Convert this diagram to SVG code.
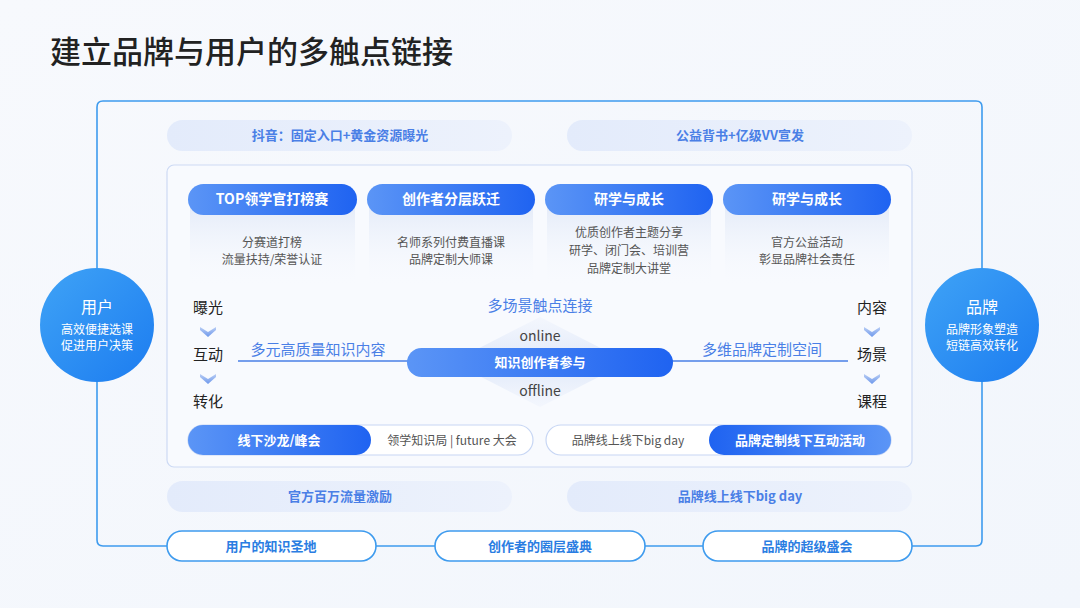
<svg xmlns="http://www.w3.org/2000/svg" width="1080" height="608" viewBox="0 0 1080 608">
<defs>
<linearGradient id="bg" x1="0" y1="0" x2="1" y2="1"><stop offset="0" stop-color="#f7f9fd"/><stop offset="1" stop-color="#f2f6fc"/></linearGradient>
<linearGradient id="blueR" x1="0" y1="0" x2="1" y2="0"><stop offset="0" stop-color="#5b95f6"/><stop offset="1" stop-color="#1f63f1"/></linearGradient>
<linearGradient id="blueL" x1="0" y1="0" x2="1" y2="0"><stop offset="0" stop-color="#1f63f1"/><stop offset="1" stop-color="#5b95f6"/></linearGradient>
<linearGradient id="pale" x1="0" y1="0" x2="1" y2="0"><stop offset="0" stop-color="#e3ebfb"/><stop offset="1" stop-color="#edf2fc"/></linearGradient>
<linearGradient id="fade" x1="0" y1="0" x2="0" y2="1"><stop offset="0" stop-color="#e4ebf8"/><stop offset="1" stop-color="#f6f9fe" stop-opacity="0"/></linearGradient>
<linearGradient id="circ" x1="0" y1="0" x2="1" y2="1"><stop offset="0" stop-color="#3fa3f6"/><stop offset="1" stop-color="#1c7cf0"/></linearGradient>
<linearGradient id="dia" x1="0" y1="0" x2="0" y2="1"><stop offset="0" stop-color="#e8eefb" stop-opacity="0.3"/><stop offset="0.5" stop-color="#dfe8f9"/><stop offset="1" stop-color="#e8eefb" stop-opacity="0.3"/></linearGradient>
<linearGradient id="chev" x1="0" y1="0" x2="0" y2="1"><stop offset="0" stop-color="#b9cdf4"/><stop offset="1" stop-color="#6d98ec"/></linearGradient>
<style>
text{font-family:"Noto Sans CJK SC","Noto Sans",sans-serif;}
.title{font-size:31px;fill:#222;font-weight:500;}
.pale{fill:url(#pale);}
.paleT{font-size:13px;fill:#4a7fe6;font-weight:700;text-anchor:middle;}
.head{fill:url(#blueR);}
.headT{font-size:14px;fill:#fff;font-weight:700;text-anchor:middle;}
.desc{font-size:12px;fill:#555;text-anchor:middle;}
.side{font-size:15px;fill:#222;text-anchor:middle;}
.blueT{font-size:15px;fill:#4a7fe6;text-anchor:middle;}
.line{stroke:#3e9bee;stroke-width:1.6;fill:none;}
.bot{fill:#fff;stroke:#3e9bee;stroke-width:1.6;}
.botT{font-size:13px;fill:#2a7de2;font-weight:700;text-anchor:middle;}
.cT{font-size:16px;fill:#fff;text-anchor:middle;}
.cS{font-size:12px;fill:#fff;text-anchor:middle;}
.chev{fill:url(#chev);}
</style>
</defs>
<rect width="1080" height="608" fill="url(#bg)"/>
<text class="title" x="50" y="63">建立品牌与用户的多触点链接</text>

<g id="top-pills">
<rect class="pale" x="167" y="120" width="345" height="31" rx="15.5"/>
<text class="paleT" x="340" y="140">抖音：固定入口+黄金资源曝光</text>
<rect class="pale" x="567" y="120" width="345" height="31" rx="15.5"/>
<text class="paleT" x="740" y="140">公益背书+亿级VV宣发</text>
</g>

<g id="inner-box">
<rect x="167" y="165" width="745" height="302" rx="7" fill="#f8fafe" stroke="#cddaf4" stroke-width="1.2"/>
</g>

<g id="connectors">
<path class="line" d="M167,546 H103 Q97,546 97,540 V107 Q97,101 103,101 H976 Q982,101 982,107 V540 Q982,546 976,546 H912"/>
<line class="line" x1="376" y1="546" x2="435" y2="546"/>
<line class="line" x1="645" y1="546" x2="703" y2="546"/>
<line x1="238" y1="361" x2="410" y2="361" stroke="#4a7fe6" stroke-width="1.5"/>
<line x1="670" y1="361" x2="848" y2="361" stroke="#4a7fe6" stroke-width="1.5"/>
</g>

<g id="card1">
<rect x="190" y="205" width="165" height="80" fill="url(#fade)"/>
<rect class="head" x="188" y="184" width="169" height="31" rx="15.5"/>
<text class="headT" x="272" y="204">TOP领学官打榜赛</text>
<text class="desc" x="272" y="247">分赛道打榜</text>
<text class="desc" x="272" y="264">流量扶持/荣誉认证</text>
</g>
<g id="card2">
<rect x="369" y="205" width="164" height="80" fill="url(#fade)"/>
<rect class="head" x="367" y="184" width="168" height="31" rx="15.5"/>
<text class="headT" x="451" y="204">创作者分层跃迁</text>
<text class="desc" x="451" y="247">名师系列付费直播课</text>
<text class="desc" x="451" y="264">品牌定制大师课</text>
</g>
<g id="card3">
<rect x="547" y="205" width="164" height="80" fill="url(#fade)"/>
<rect class="head" x="545" y="184" width="168" height="31" rx="15.5"/>
<text class="headT" x="629" y="204">研学与成长</text>
<text class="desc" x="629" y="237">优质创作者主题分享</text>
<text class="desc" x="629" y="255">研学、闭门会、培训营</text>
<text class="desc" x="629" y="273">品牌定制大讲堂</text>
</g>
<g id="card4">
<rect x="725" y="205" width="164" height="80" fill="url(#fade)"/>
<rect class="head" x="723" y="184" width="168" height="31" rx="15.5"/>
<text class="headT" x="807" y="204">研学与成长</text>
<text class="desc" x="807" y="247">官方公益活动</text>
<text class="desc" x="807" y="264">彰显品牌社会责任</text>
</g>

<g id="left-steps">
<text class="side" x="208" y="313">曝光</text>
<path class="chev" d="M200,327 L208,332 L216,327 L216,330 L208,337 L200,330 Z"/>
<text class="side" x="208" y="360">互动</text>
<path class="chev" d="M200,374 L208,379 L216,374 L216,377 L208,384 L200,377 Z"/>
<text class="side" x="208" y="407">转化</text>
</g>
<g id="right-steps">
<text class="side" x="872" y="313">内容</text>
<path class="chev" d="M864,327 L872,332 L880,327 L880,330 L872,337 L864,330 Z"/>
<text class="side" x="872" y="360">场景</text>
<path class="chev" d="M864,374 L872,379 L880,374 L880,377 L872,384 L864,377 Z"/>
<text class="side" x="872" y="407">课程</text>
</g>

<g id="center">
<text class="blueT" x="540" y="311">多场景触点连接</text>
<polygon points="540,317 628,362 540,407 452,362" fill="url(#dia)"/>
<text x="540" y="341" font-size="14" fill="#444" text-anchor="middle" font-family="Roboto,sans-serif">online</text>
<text x="540" y="396" font-size="14" fill="#444" text-anchor="middle" font-family="Roboto,sans-serif">offline</text>
<rect x="407" y="348" width="266" height="29" rx="14.5" fill="url(#blueR)"/>
<text x="540" y="367" font-size="13" fill="#fff" font-weight="700" text-anchor="middle">知识创作者参与</text>
<text class="blueT" x="318" y="355">多元高质量知识内容</text>
<text class="blueT" x="762" y="355">多维品牌定制空间</text>
</g>

<g id="bottom-left-combo">
<rect x="188" y="425" width="345" height="30" rx="15" fill="#fff" stroke="#c7d6f4" stroke-width="1.2"/>
<rect x="188" y="425" width="183" height="30" rx="15" fill="url(#blueR)"/>
<text x="279" y="445" font-size="13" fill="#fff" font-weight="700" text-anchor="middle">线下沙龙/峰会</text>
<text x="452" y="445" font-size="12" fill="#555" text-anchor="middle">领学知识局 | future 大会</text>
</g>
<g id="bottom-right-combo">
<rect x="546" y="425" width="345" height="30" rx="15" fill="#fff" stroke="#c7d6f4" stroke-width="1.2"/>
<rect x="709" y="425" width="182" height="30" rx="15" fill="url(#blueL)"/>
<text x="800" y="445" font-size="13" fill="#fff" font-weight="700" text-anchor="middle">品牌定制线下互动活动</text>
<text x="628" y="445" font-size="12" fill="#555" text-anchor="middle">品牌线上线下big day</text>
</g>

<g id="lower-pills">
<rect class="pale" x="167" y="481" width="345" height="31" rx="15.5"/>
<text class="paleT" x="340" y="501">官方百万流量激励</text>
<rect class="pale" x="567" y="481" width="345" height="31" rx="15.5"/>
<text class="paleT" x="740" y="501">品牌线上线下big day</text>
</g>

<g id="bottom-1">
<rect class="bot" x="167" y="531" width="209" height="30" rx="15"/>
<text class="botT" x="271" y="551">用户的知识圣地</text>
</g>
<g id="bottom-2">
<rect class="bot" x="435" y="531" width="210" height="30" rx="15"/>
<text class="botT" x="540" y="551">创作者的圈层盛典</text>
</g>
<g id="bottom-3">
<rect class="bot" x="703" y="531" width="209" height="30" rx="15"/>
<text class="botT" x="807" y="551">品牌的超级盛会</text>
</g>

<g id="user-circle">
<circle cx="97" cy="325" r="57" fill="url(#circ)"/>
<text class="cT" x="97" y="313">用户</text>
<text class="cS" x="97" y="334">高效便捷选课</text>
<text class="cS" x="97" y="350">促进用户决策</text>
</g>
<g id="brand-circle">
<circle cx="982" cy="325" r="57" fill="url(#circ)"/>
<text class="cT" x="982" y="313">品牌</text>
<text class="cS" x="982" y="334">品牌形象塑造</text>
<text class="cS" x="982" y="350">短链高效转化</text>
</g>
</svg>
